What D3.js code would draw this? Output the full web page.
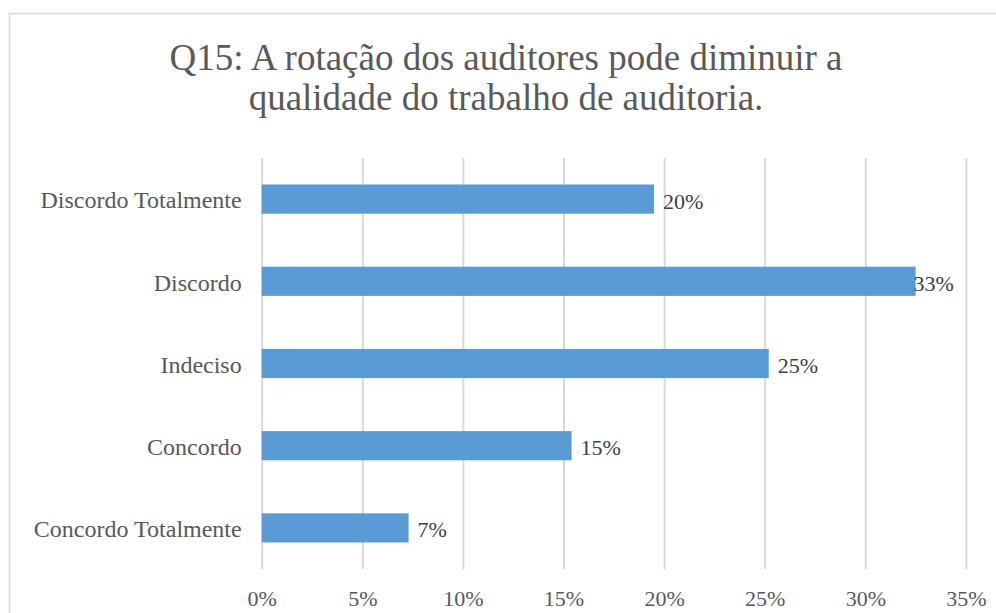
<!DOCTYPE html>
<html lang="pt">
<head>
<meta charset="UTF-8">
<script src="https://d3js.org/d3.v7.min.js"></script>
<title>Q15</title>
<style>
  body { margin: 0; background: #fff; }
  text { font-family: "Liberation Serif", "Times New Roman", serif; }
</style>
</head>
<body>
<svg id="chart" width="996" height="613"></svg>
<script>
// data (percent)
var titleLines = ["Q15: A rotação dos auditores pode diminuir a", "qualidade do trabalho de auditoria."];
var categories = ["Discordo Totalmente", "Discordo", "Indeciso", "Concordo", "Concordo Totalmente"];
var values = [19.5, 32.5, 25.2, 15.4, 7.3];
var xTicks = [0, 5, 10, 15, 20, 25, 30, 35];

var data = categories.map((c, i) => ({ cat: c, val: values[i] }));

const svg = d3.select("#chart");
const plot = { left: 261.7, right: 965.9, top: 158, bottom: 569 };

// chart area frame (runs off the right and bottom edge)
svg.append("rect")
  .attr("x", 9.5).attr("y", 13.5)
  .attr("width", 1000).attr("height", 620)
  .attr("fill", "#fff")
  .attr("stroke", "#d9d9d9")
  .attr("stroke-width", 1.5);

// title
svg.append("g").selectAll("text")
  .data(titleLines)
  .enter().append("text")
  .attr("x", 506)
  .attr("y", (d, i) => 70 + i * 40)
  .attr("text-anchor", "middle")
  .attr("font-size", 37)
  .attr("fill", "#595959")
  .text(d => d);

let x = d3.scaleLinear().domain([0, 35]).range([plot.left, plot.right]);
let y = d3.scaleBand()
  .domain(categories)
  .range([plot.top, plot.bottom])
  .paddingInner(0.645)
  .paddingOuter(0.3225);

// vertical gridlines
svg.append("g")
  .attr("transform", `translate(0,${plot.bottom})`)
  .call(d3.axisBottom(x).tickValues(xTicks).tickSize(-(plot.bottom - plot.top)).tickFormat(""))
  .call(g => g.select(".domain").remove())
  .call(g => g.selectAll(".tick line").attr("stroke", "#d9d9d9").attr("stroke-width", 2));

// x tick labels
svg.append("g")
  .attr("transform", `translate(0,${plot.bottom})`)
  .call(d3.axisBottom(x).tickValues(xTicks).tickSize(0).tickPadding(0).tickFormat(d => d + "%"))
  .call(g => g.select(".domain").remove())
  .call(g => g.selectAll(".tick text")
    .attr("y", 37)
    .attr("dy", null)
    .attr("font-size", 22)
    .attr("font-family", "Liberation Serif, Times New Roman, serif")
    .attr("fill", "#595959"));

// category labels
svg.append("g")
  .attr("transform", `translate(${plot.left},0)`)
  .call(d3.axisLeft(y).tickSize(0).tickPadding(20))
  .call(g => g.select(".domain").remove())
  .call(g => g.selectAll(".tick text")
    .attr("dy", "0.39em")
    .attr("font-size", 24)
    .attr("font-family", "Liberation Serif, Times New Roman, serif")
    .attr("fill", "#595959"));

// bars
svg.selectAll(".bar")
  .data(data)
  .enter().append("rect")
  .attr("class", "bar")
  .attr("x", x(0))
  .attr("y", d => y(d.cat))
  .attr("width", d => x(d.val) - x(0))
  .attr("height", y.bandwidth())
  .attr("fill", "#5b9bd5");

// data labels, pushed back left when they would run past the plot edge
svg.selectAll(".lbl")
  .data(data)
  .enter().append("text")
  .attr("class", "lbl")
  .attr("y", d => y(d.cat) + y.bandwidth() / 2)
  .attr("dy", "0.43em")
  .attr("font-size", 22)
  .attr("fill", "#404040")
  .text(d => Math.round(d.val) + "%")
  .attr("x", function(d) {
    var w = this.getComputedTextLength();
    return Math.min(x(d.val) + 9, plot.right - 12 - w);
  });
</script>
</body>
</html>
